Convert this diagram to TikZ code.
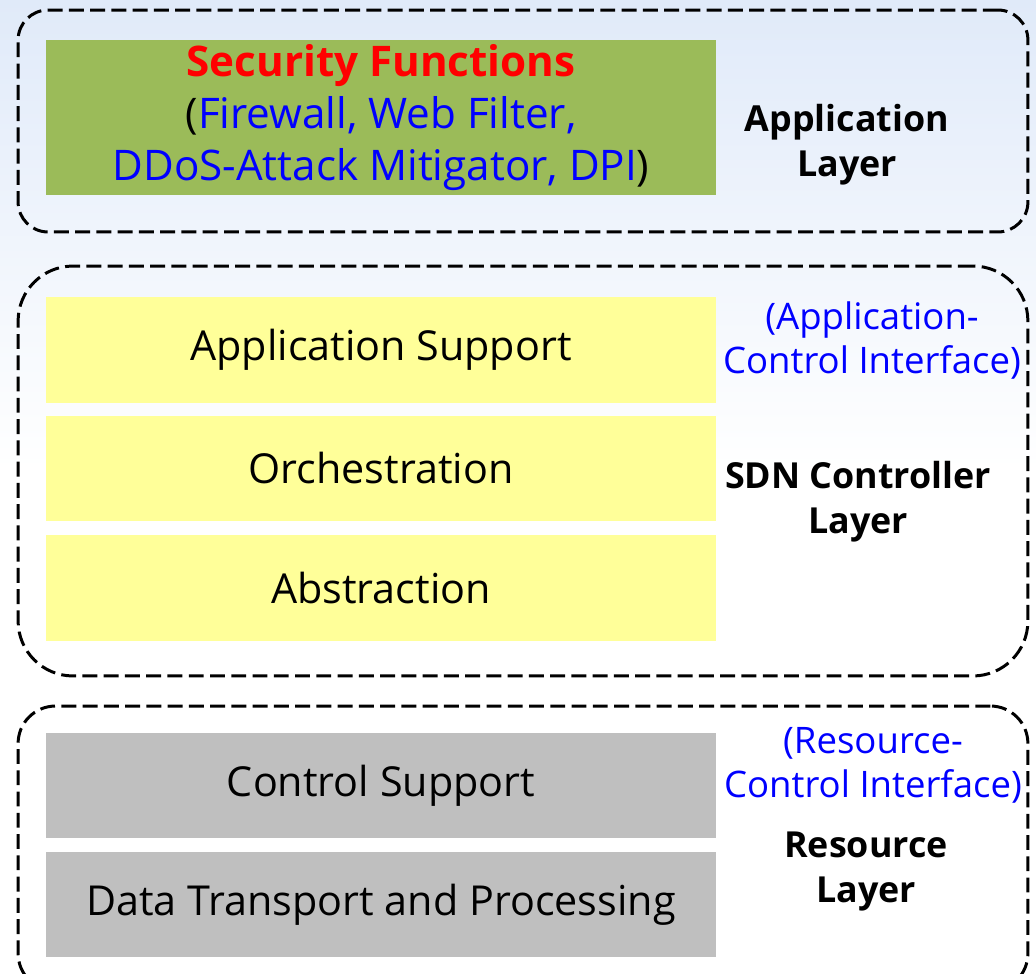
\documentclass[tikz,border=0pt]{standalone}
\usepackage{fontspec}
\setmainfont{Open Sans}
\usetikzlibrary{positioning}
\definecolor{secgreen}{RGB}{155,187,89}
\definecolor{ctlyellow}{RGB}{255,255,153}
\definecolor{resgray}{RGB}{191,191,191}
\definecolor{skyblue}{RGB}{224,234,249}
\definecolor{ifblue}{RGB}{0,0,255}
\definecolor{secred}{RGB}{255,0,0}
\tikzset{
  layerbox/.style={draw=black, line width=1.7pt, dash pattern=on 8.5pt off 3.6pt,
    rectangle, minimum width=20.2cm},
  block/.style={rectangle, minimum width=13.4cm, minimum height=2.12cm,
    inner sep=0pt, align=center, font=\fontsize{23.5}{28}\selectfont},
  layername/.style={align=center, font=\fontsize{20.4}{25.5}\selectfont\bfseries},
  ifname/.style={align=center, text=ifblue, font=\fontsize{20.8}{25}\selectfont}
}

\begin{document}
\begin{tikzpicture}[x=0.02cm, y=-0.02cm]
\useasboundingbox (0,0) rectangle (1036,974);
% background
\fill[white] (0,0) rectangle (1036,974);
\shade[top color=skyblue, bottom color=white] (0,0) rectangle (1036,470);

% layer frames
\node[layerbox, minimum height=4.44cm, rounded corners=0.6cm] (applayer) at (523,121) {};
\node[layerbox, minimum height=8.2cm, rounded corners=1.1cm] (ctllayer) at (523,471) {};
\node[layerbox, minimum height=5.7cm, rounded corners=0.75cm] (reslayer) at (523,848.5) {};

% application layer
\node[block, fill=secgreen, minimum height=3.1cm, font=\fontsize{24}{29.5}\selectfont] (secfun) at (381,117.5)
  {\textcolor{secred}{\bfseries Security Functions}\\
   (\textcolor{ifblue}{Firewall, Web Filter,}\\
   \textcolor{ifblue}{DDoS-Attack Mitigator, DPI})};
\node[layername] (applabel) at (847,145) {Application\\Layer};

% SDN controller layer
\node[block, fill=ctlyellow] (appsup) at (381,350) {Application Support};
\node[block, fill=ctlyellow] (orch) at (381,468.5) {Orchestration};
\node[block, fill=ctlyellow] (abstr) at (381,588) {Abstraction};
\node[ifname] (acif) at (872,340.5) {(Application-\\Control Interface)};
\node[layername] (ctllabel) at (858,502) {SDN Controller\\Layer};

% resource layer
\node[block, fill=resgray] (ctlsup) at (381,785.5) {Control Support};
\node[block, fill=resgray] (datatp) at (381,904.5) {Data Transport and Processing};
\node[ifname] (rcif) at (873,765) {(Resource-\\Control Interface)};
\node[layername] (reslabel) at (866,871.5) {Resource\\Layer};
\end{tikzpicture}
\end{document}
